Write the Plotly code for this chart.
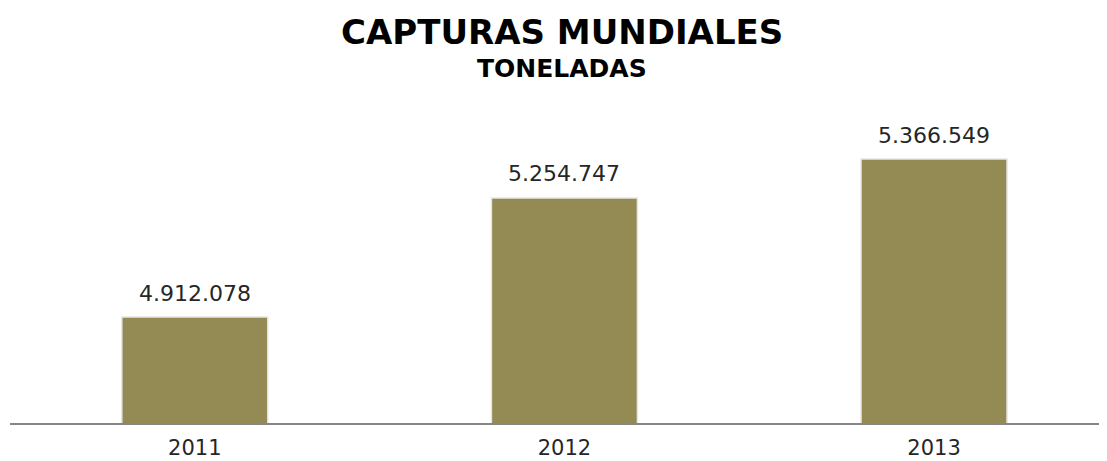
import plotly.graph_objects as go

# data
years = ["2011", "2012", "2013"]
capturas = [4912078, 5254747, 5366549]
etiquetas = [f"{v:,}".replace(",", ".") for v in capturas]

fig = go.Figure()
fig.add_trace(go.Bar(x=years, y=capturas,
                     marker=dict(color="#948A54",
                                 line=dict(color="#E6E6E6", width=1.5)),
                     hoverinfo="x+y"))

# value labels above bars (category axis -> index positions)
for i, (y, t) in enumerate(zip(capturas, etiquetas)):
    fig.add_annotation(x=i, y=y, text=t, showarrow=False, yshift=24,
                       yanchor="middle",
                       font=dict(family="DejaVu Sans", size=22, color="#262626"))

fig.add_annotation(text="<b>CAPTURAS MUNDIALES</b>", xref="paper", yref="paper",
                   x=0.5036, y=1.21, showarrow=False, yanchor="middle",
                   font=dict(family="DejaVu Sans", size=34, color="#000000"))
fig.add_annotation(text="<b>TONELADAS</b>", xref="paper", yref="paper",
                   x=0.5036, y=1.099, showarrow=False, yanchor="middle",
                   font=dict(family="DejaVu Sans", size=25, color="#000000"))

fig.update_layout(width=1099, height=453,
                  margin=dict(l=2, r=0, t=92, b=38),
                  plot_bgcolor="white", paper_bgcolor="white",
                  bargap=0.605, showlegend=False,
                  xaxis=dict(type="category", range=[-0.5, 2.468], showgrid=False,
                             showline=True, linecolor="#868686", linewidth=1.5,
                             ticks="", ticklabelstandoff=5, automargin=False,
                             tickfont=dict(family="DejaVu Sans", size=21, color="#262626")),
                  yaxis=dict(range=[4607000, 5536600], showticklabels=False,
                             showgrid=False, zeroline=False, showline=False,
                             automargin=False))

fig.write_html("out.html")
